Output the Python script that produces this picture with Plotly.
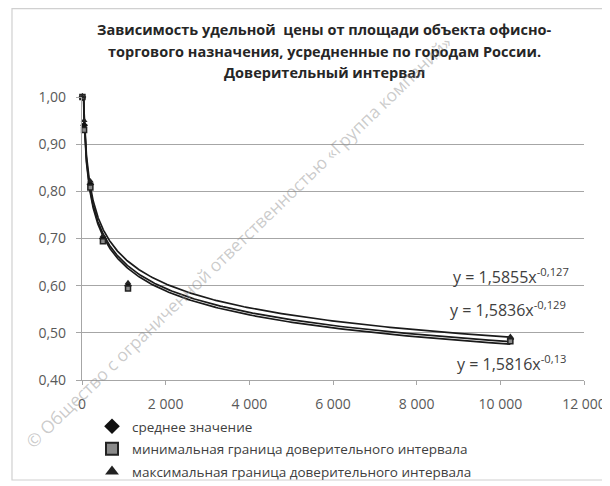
import numpy as np
import plotly.graph_objects as go

# ---- data ----
area = [10, 50, 200, 500, 1100, 10240]
mean_vals = [1.00, 0.94, 0.815, 0.70, 0.60, 0.487]
min_vals = [1.00, 0.93, 0.808, 0.694, 0.594, 0.482]
max_vals = [1.00, 0.95, 0.822, 0.706, 0.606, 0.492]

series_names = ["среднее значение",
                "минимальная граница доверительного интервала",
                "максимальная граница доверительного интервала"]
trend_a = [1.5836, 1.5816, 1.5855]
trend_b = [-0.129, -0.13, -0.127]
trend_label_text_a = ["1,5836", "1,5816", "1,5855"]
trend_label_text_b = ["-0,129", "-0,13", "-0,127"]
trend_label_x = [10180, 10260, 10250]
trend_label_y = [0.551, 0.435, 0.621]

title_lines = ["Зависимость удельной  цены от площади объекта офисно-",
               "торгового назначения, усредненные по городам России.",
               "Доверительный интервал"]
watermark = "© Общество с ограниченной ответственностью «Группа компаний»"

# page has an 8px body margin; work in page pixels and convert
OFF = 8
W, H = 610 - OFF, 486 - OFF
L, R, T, B = 82, 584, 97, 380


def fx(px):
    return (px - OFF) / W


def fy(py):
    return 1 - (py - OFF) / H


fig = go.Figure()

# trend lines (power fits given by the equations)
xs = np.geomspace(min(area), max(area), 400)
for a, b in zip(trend_a, trend_b):
    fig.add_trace(go.Scatter(x=xs, y=a * xs ** b, mode="lines",
                             line=dict(color="#1a1a1a", width=1.7),
                             showlegend=False, hoverinfo="skip"))

fig.add_trace(go.Scatter(x=area, y=mean_vals, mode="markers", name=series_names[0],
                         legendgroup="g1",
                         marker=dict(symbol="diamond", size=6, color="#111111"),
                         cliponaxis=False))
fig.add_trace(go.Scatter(x=area, y=min_vals, mode="markers", name=series_names[1],
                         legendgroup="g2",
                         marker=dict(symbol="square", size=5, color="#8a8a8a",
                                     line=dict(color="#222222", width=1.5)),
                         cliponaxis=False))
fig.add_trace(go.Scatter(x=area, y=max_vals, mode="markers", name=series_names[2],
                         legendgroup="g3",
                         marker=dict(symbol="triangle-up", size=6, color="#222222"),
                         cliponaxis=False))

annotations = []
for line, py in zip(title_lines, [30, 51, 72]):
    annotations.append(dict(text="<b>" + line + "</b>", xref="paper", yref="paper",
                            x=fx(324), y=fy(py), xanchor="center",
                            yanchor="middle", showarrow=False,
                            font=dict(family="Open Sans", size=14.5, color="#262626")))
for ta, tb, lx, ly in zip(trend_label_text_a, trend_label_text_b, trend_label_x, trend_label_y):
    annotations.append(dict(text="y = " + ta + "x<sup>" + tb + "</sup>", x=lx, y=ly,
                            xanchor="center", yanchor="middle", showarrow=False,
                            font=dict(family="Open Sans", size=16, color="#404040")))
annotations.append(dict(text=watermark, xref="paper", yref="paper", x=fx(238), y=fy(242),
                        xanchor="center", yanchor="middle", showarrow=False, textangle=-44,
                        font=dict(family="Open Sans", size=17.5, color="rgba(140,140,140,0.45)")))

shapes = [dict(type="rect", xref="paper", yref="paper", x0=fx(12), x1=fx(609),
               y0=fy(480), y1=fy(8.6), line=dict(color="#d0d0d0", width=1.2),
               fillcolor="rgba(0,0,0,0)", layer="below")]

fig.update_layout(
    width=W, height=H,
    margin=dict(l=0, r=0, t=0, b=0, autoexpand=False),
    paper_bgcolor="white", plot_bgcolor="white",
    separators=", ",
    font=dict(family="Open Sans", size=12, color="#595959"),
    showlegend=True,
    legend=dict(x=fx(92), y=fy(411), xanchor="left", yanchor="top",
                font=dict(family="Open Sans", size=13.5, color="#404040"),
                tracegroupgap=2, itemsizing="constant", bgcolor="rgba(0,0,0,0)"),
    annotations=annotations,
    shapes=shapes,
    xaxis=dict(domain=[fx(L), fx(R)], range=[0, 12000],
               tickvals=[0, 2000, 4000, 6000, 8000, 10000, 12000], automargin=False,
               tickformat=",d", showgrid=False, zeroline=False, showline=True,
               linecolor="#a6a6a6", linewidth=1.2, ticks="outside", ticklen=4,
               tickcolor="#a6a6a6", ticklabelstandoff=7,
               tickfont=dict(size=14, color="#595959")),
    yaxis=dict(domain=[fy(B), fy(T)], range=[0.40, 1.00], dtick=0.1, tick0=0.4,
               tickformat=".2f", automargin=False,
               showgrid=True, gridcolor="#a6a6a6", gridwidth=1.2, zeroline=False,
               showline=True, linecolor="#a6a6a6", linewidth=1.2, ticks="outside",
               ticklen=5, tickcolor="#a6a6a6", ticklabelstandoff=7,
               tickfont=dict(size=14, color="#595959")),
)

fig.write_html("out.html")
